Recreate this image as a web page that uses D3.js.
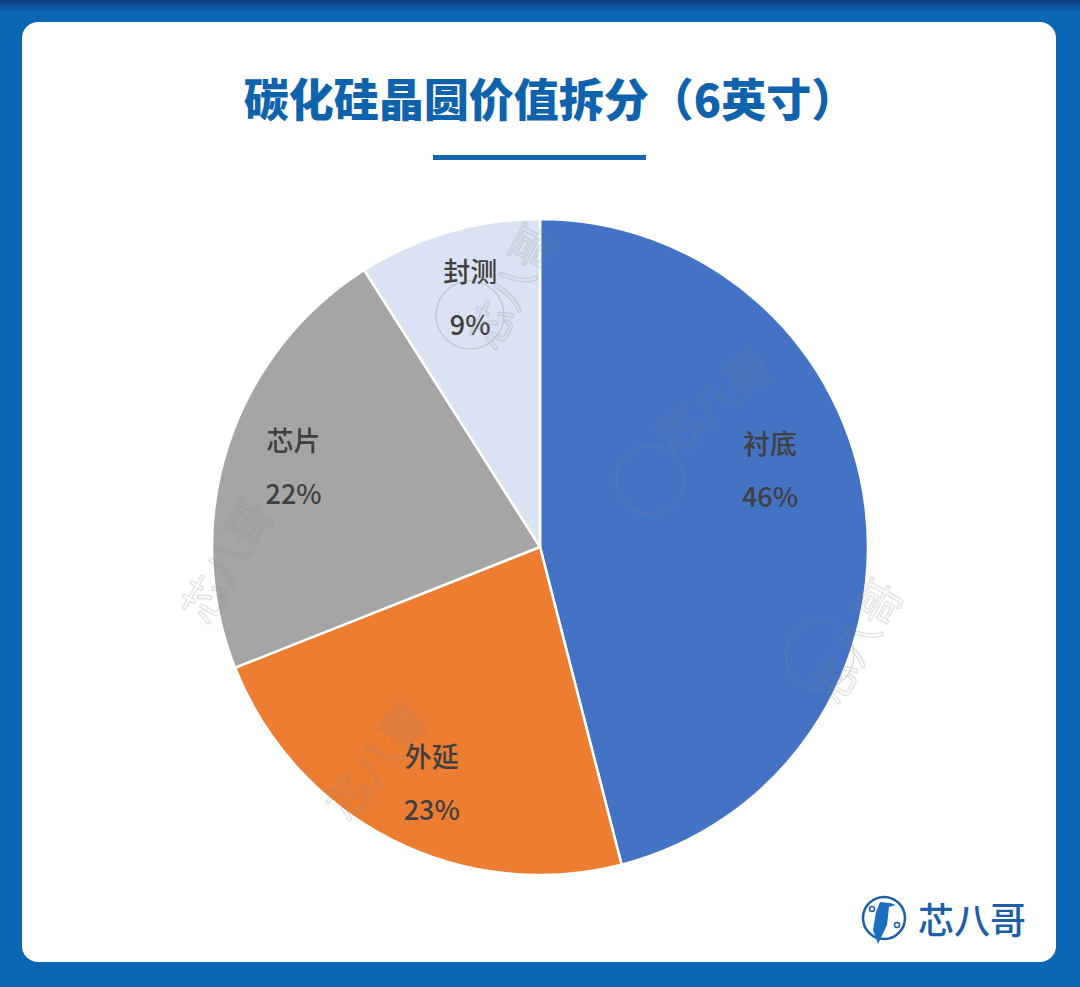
<!DOCTYPE html>
<html>
<head>
<meta charset="utf-8">
<script src="https://cdn.jsdelivr.net/npm/d3@7/dist/d3.min.js"></script>
<style>
html,body{margin:0;padding:0;background:#0b66b4;}
svg{display:block;}
</style>
</head>
<body>
<svg id="chart" width="1080" height="987"></svg>
<script>
const categories = ["衬底", "外延", "芯片", "封测"];
const values = [46, 23, 22, 9];
const labels = ["46%", "23%", "22%", "9%"];
const colors = ["#4472c4", "#ed7d31", "#a5a5a5", "#dae3f3"];
const title = "碳化硅晶圆价值拆分（6英寸）";
const brand = "芯八哥";

const W = 1080, H = 987;
const svg = d3.select("#chart");
const font = "'Noto Sans CJK SC','Noto Sans',sans-serif";

// background
const defs = svg.append("defs");
const bg = defs.append("linearGradient").attr("id","bg").attr("x1",0).attr("y1",0).attr("x2",0).attr("y2",1);
bg.append("stop").attr("offset","0").attr("stop-color","#0a3f7a");
bg.append("stop").attr("offset","0.012").attr("stop-color","#0b66b4");
bg.append("stop").attr("offset","1").attr("stop-color","#0b66b4");
svg.append("rect").attr("width",W).attr("height",H).attr("fill","url(#bg)");

// card
svg.append("rect").attr("x",22).attr("y",22).attr("width",1034).attr("height",940)
  .attr("rx",16).attr("fill","#ffffff");

// title
svg.append("text").attr("x",550).attr("y",97)
  .attr("text-anchor","middle").attr("dominant-baseline","central")
  .attr("font-family",font).attr("font-weight",900).attr("font-size",45)
  .attr("fill","#0f63ad").text(title);
svg.append("rect").attr("x",433).attr("y",155).attr("width",213).attr("height",5).attr("fill","#1565ad");

// pie
const cx = 540, cy = 547, R = 328;
const pie = d3.pie().sort(null).value(d => d)(values);
const arc = d3.arc().innerRadius(0).outerRadius(R);
const g = svg.append("g").attr("transform",`translate(${cx},${cy})`);
g.selectAll("path.slice").data(pie).join("path").attr("class","slice")
  .attr("d",arc).attr("fill",(d,i)=>colors[i])
  .attr("stroke","#ffffff").attr("stroke-width",2.5);

// watermarks (faint outlined text)
const wm = svg.append("g").attr("opacity",0.35);
const wmPlaces = [[510,285,-62],[712,400,-40],[225,560,-60],[375,760,-52],[855,640,-60]];
wmPlaces.forEach(p=>{
  wm.append("text").attr("transform",`translate(${p[0]},${p[1]}) rotate(${p[2]})`)
    .attr("text-anchor","middle").attr("dominant-baseline","central")
    .attr("font-family",font).attr("font-size",44)
    .attr("fill","none").attr("stroke","#888").attr("stroke-width",1).text(brand);
});
[[470,315],[650,480],[820,655]].forEach(p=>{
  wm.append("circle").attr("cx",p[0]).attr("cy",p[1]).attr("r",34)
    .attr("fill","none").attr("stroke","#888").attr("stroke-width",1.2);
});

// labels
const angleNudge = [-0.2, -0.04, 0, 0.01]; // radians, label placement tweak
const lg = g.selectAll("g.lbl").data(pie).join("g").attr("class","lbl")
  .attr("transform",(d,i)=>{
    const a = (d.startAngle+d.endAngle)/2 + angleNudge[i];
    const r = i===0 ? R*0.74 : R*0.79;
    return `translate(${r*Math.sin(a)},${-r*Math.cos(a)})`;
  });
lg.append("text").attr("y",-27).attr("text-anchor","middle").attr("dominant-baseline","central")
  .attr("font-family",font).attr("font-size",27).attr("font-weight",500).attr("fill","#404040")
  .text((d,i)=>categories[i]);
lg.append("text").attr("y",26).attr("text-anchor","middle").attr("dominant-baseline","central")
  .attr("font-family",font).attr("font-size",27).attr("font-weight",500).attr("fill","#404040")
  .text((d,i)=>labels[i]);

// brand logo
const logo = svg.append("g");
logo.append("circle").attr("cx",884).attr("cy",918).attr("r",21)
  .attr("fill","none").attr("stroke","#1c5ea8").attr("stroke-width",2.5);
logo.append("path").attr("d","M880,902 L890,903 L896,905 L889,907 L887,925 L878,944 L873,930 L876,912 Z")
  .attr("fill","#1c6fc0");
logo.append("circle").attr("cx",872).attr("cy",909).attr("r",2.5).attr("fill","#fff").attr("stroke","#1c5ea8").attr("stroke-width",1.5);
logo.append("circle").attr("cx",897).attr("cy",925).attr("r",2.5).attr("fill","#fff").attr("stroke","#1c5ea8").attr("stroke-width",1.5);
logo.append("text").attr("x",918).attr("y",918).attr("dominant-baseline","central")
  .attr("font-family",font).attr("font-size",36).attr("font-weight",500)
  .attr("fill","#1c5ea8").text(brand);
</script>
</body>
</html>
